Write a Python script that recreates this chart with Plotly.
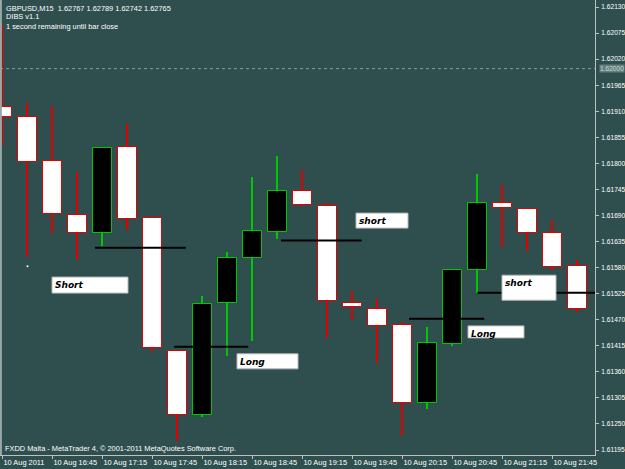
import plotly.graph_objects as go

# ---------------- data ----------------
time_labels = ["10 Aug 2011", "10 Aug 16:45", "10 Aug 17:15", "10 Aug 17:45", "10 Aug 18:15",
               "10 Aug 18:45", "10 Aug 19:15", "10 Aug 19:45", "10 Aug 20:15", "10 Aug 20:45",
               "10 Aug 21:15", "10 Aug 21:45"]
bar_index = list(range(24))
open_ = [1.61919, 1.61898, 1.61805, 1.61692, 1.61654, 1.61834, 1.61684, 1.61405,
         1.61269, 1.61506, 1.61600, 1.61656, 1.61742, 1.61709, 1.61506, 1.61493,
         1.61459, 1.61295, 1.61418, 1.61575, 1.61716, 1.61704, 1.61652, 1.61583]
high = [1.62092, 1.61927, 1.61921, 1.61782, 1.61835, 1.61883, 1.61685, 1.61405,
        1.61520, 1.61612, 1.61772, 1.61816, 1.61785, 1.61716, 1.61531, 1.61513,
        1.61466, 1.61455, 1.61577, 1.61778, 1.61754, 1.61704, 1.61680, 1.61596]
low = [1.61839, 1.61603, 1.61654, 1.61596, 1.61626, 1.61659, 1.61402, 1.61215,
       1.61264, 1.61393, 1.61426, 1.61640, 1.61711, 1.61431, 1.61469, 1.61379,
       1.61225, 1.61281, 1.61415, 1.61527, 1.61623, 1.61615, 1.61575, 1.61487]
close = [1.61898, 1.61803, 1.61694, 1.61654, 1.61833, 1.61683, 1.61410, 1.61269,
         1.61503, 1.61600, 1.61658, 1.61742, 1.61712, 1.61510, 1.61497, 1.61457,
         1.61295, 1.61420, 1.61575, 1.61716, 1.61705, 1.61652, 1.61582, 1.61492]

# signal levels (start bar, end bar, price)
level_start = [3.7, 6.87, 11.14, 16.26, 19.0]
level_end = [7.33, 9.83, 14.37, 19.27, 23.78]
level_price = [1.61622, 1.61413, 1.61637, 1.61472, 1.61527]

signal_text = ["Short", "Long", "short", "Long", "short"]

price_ticks = [1.62130, 1.62075, 1.62020, 1.61965, 1.61910, 1.61855, 1.61800, 1.61745,
               1.61690, 1.61635, 1.61580, 1.61525, 1.61470, 1.61415, 1.61360, 1.61305,
               1.61250, 1.61195]
bid_price = 1.62000
dot_bar, dot_price = [1], [1.61583]

# ---------------- style ----------------
BG = "#2f4f4f"
RED = "#e00000"
GREEN = "#00c800"
TXT = "#ffffff"
AXC = "#c0c0c0"
FONT = "Liberation Sans"
FS = 7.4
FSY = 6.6

# label boxes: left bar pos, top price, width px, height px
box_x = [1.98, 9.38, 14.14, 18.62, 19.98]
box_top = [1.61560, 1.61398, 1.61695, 1.61457, 1.61564]
box_w = [76, 61, 52, 56, 54]
box_h = [16, 15, 15, 12, 25]

W, H = 625, 469
ML, MR, MT, MB = 0, 30, 0, 14
PW, PH = W - ML - MR, H - MT - MB
XR = [-0.1, 23.7]
YR = [1.611845, 1.621448]
px_x = (XR[1] - XR[0]) / PW
px_y = (YR[1] - YR[0]) / PH

fig = go.Figure()

up = [c >= o for o, c in zip(open_, close)]
wick_col = [GREEN if u else RED for u in up]
body_fill = ["#000000" if u else "#ffffff" for u in up]

# wicks
fig.add_trace(go.Bar(x=bar_index, base=low, y=[h - l for h, l in zip(high, low)],
                     width=0.05, marker=dict(color=wick_col, line=dict(width=0)),
                     hoverinfo="skip", showlegend=False))
# bodies
fig.add_trace(go.Bar(x=bar_index, base=[min(o, c) for o, c in zip(open_, close)],
                     y=[max(abs(c - o), 0.00001) for o, c in zip(open_, close)],
                     width=0.76,
                     marker=dict(color=body_fill, line=dict(color=wick_col, width=1)),
                     hoverinfo="skip", showlegend=False))

# bid line
fig.add_trace(go.Scatter(x=[XR[0], XR[1]], y=[bid_price, bid_price], mode="lines",
                         line=dict(color="#8a9a9a", width=1, dash="dot"),
                         hoverinfo="skip", showlegend=False))

# signal levels
lx, ly = [], []
for s, e, p in zip(level_start, level_end, level_price):
    lx += [s, e, None]
    ly += [p, p, None]
fig.add_trace(go.Scatter(x=lx, y=ly, mode="lines", line=dict(color="#000000", width=2),
                         hoverinfo="skip", showlegend=False))

fig.add_trace(go.Scatter(x=dot_bar, y=dot_price, mode="markers",
                         marker=dict(color="#ffffff", size=2), hoverinfo="skip",
                         showlegend=False))

shapes = []
annotations = []
for t, bx, bt, bw, bh in zip(signal_text, box_x, box_top, box_w, box_h):
    shapes.append(dict(type="rect", xref="x", yref="y", x0=bx, x1=bx + bw * px_x,
                       y0=bt, y1=bt - bh * px_y, fillcolor="#ffffff",
                       line=dict(color="#b8b8b8", width=1), layer="above"))
    annotations.append(dict(x=bx + 1 * px_x, y=bt - 1 * px_y, xref="x", yref="y",
                            xanchor="left", yanchor="top", showarrow=False,
                            text="<b><i>" + t + "</i></b>",
                            font=dict(family="DejaVu Sans", size=9, color="#000000")))

# left frame line
shapes.append(dict(type="line", xref="paper", yref="paper", x0=0.0015, x1=0.0015, y0=0, y1=1,
                   line=dict(color="#9aa8a8", width=2)))

header = ["GBPUSD,M15  1.62767 1.62789 1.62742 1.62765", "DIBS v1.1",
          "1 second remaining until bar close"]
for i, t in enumerate(header):
    annotations.append(dict(x=4 / PW, y=1 - (8 + 9 * i) / PH, xref="paper", yref="paper",
                            xanchor="left", yanchor="middle", showarrow=False, text=t,
                            font=dict(family=FONT, size=FS, color=TXT)))
annotations.append(dict(x=3 / PW, y=1 - 448 / PH, xref="paper", yref="paper",
                        xanchor="left", yanchor="middle", showarrow=False,
                        text="FXDD Malta - MetaTrader 4, © 2001-2011 MetaQuotes Software Corp.",
                        font=dict(family=FONT, size=FS, color=TXT)))
annotations.append(dict(x=1, y=bid_price, xref="paper", yref="y", xanchor="left",
                        yanchor="middle", xshift=4, showarrow=False,
                        text="1.62000", bgcolor="#64807f", borderpad=0,
                        font=dict(family=FONT, size=FSY, color="#c8d4d4")))

fig.update_layout(
    width=W, height=H, margin=dict(l=ML, r=MR, t=MT, b=MB),
    paper_bgcolor=BG, plot_bgcolor=BG, barmode="overlay", bargap=0,
    showlegend=False, shapes=shapes, annotations=annotations,
    xaxis=dict(range=XR, tickvals=[2 * i for i in range(len(time_labels))],
               ticktext=time_labels, ticklabelposition="outside right", tickangle=0,
               ticks="outside", ticklen=3, tickcolor=AXC, showline=True,
               linecolor=AXC, linewidth=1, showgrid=False, zeroline=False,
               tickfont=dict(family=FONT, size=FS, color=TXT), automargin=False,
               ticklabelstandoff=0, fixedrange=True),
    yaxis=dict(range=YR, side="right", tickvals=price_ticks,
               ticktext=["%.5f" % v for v in price_ticks], ticks="outside", ticklen=3,
               tickcolor=AXC, showline=True, linecolor=AXC, linewidth=1, showgrid=False,
               zeroline=False, tickfont=dict(family=FONT, size=FSY, color=TXT),
               ticklabelstandoff=1, automargin=False, fixedrange=True),
)

fig.write_html("out.html")
